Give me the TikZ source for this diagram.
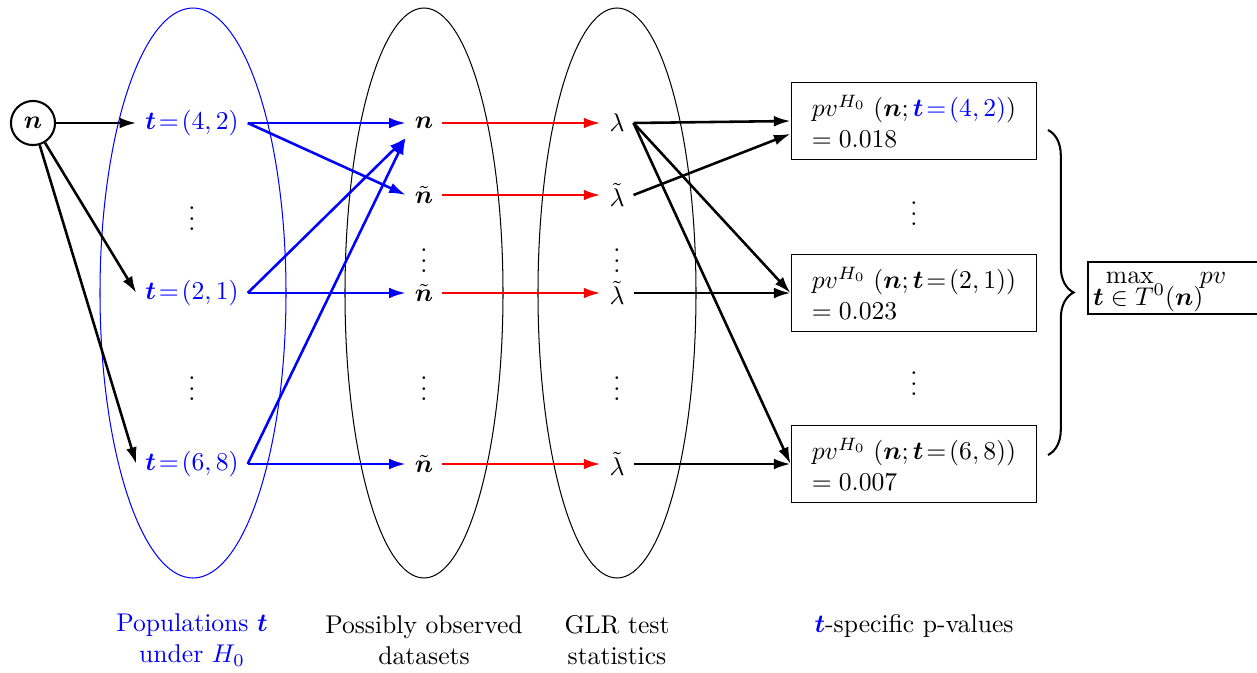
\documentclass[tikz,border=0pt]{standalone}
\usepackage{amsmath,amssymb}
\usetikzlibrary{arrows.meta,decorations.pathreplacing}

\begin{document}
\begin{tikzpicture}[x=0.39pt, y=-0.39pt,
  pop/.style={text=blue},
  pvbox/.style={draw, align=left, minimum width=95.9pt, minimum height=30pt},
  imp/.style={-{Latex[length=6.5pt, width=4.2pt]}, line width=1pt},
  impb/.style={imp, blue},
  impr/.style={imp, red},
  brc/.style={decorate, decoration={brace, amplitude=10pt}, thick},
]
\useasboundingbox (0,0) rectangle (1257,673);

% the three groups
\draw[blue] (193,293) ellipse [x radius=93, y radius=285];
\draw (424,293) ellipse [x radius=79, y radius=285];
\draw (617,293) ellipse [x radius=79, y radius=285];

% observed data
\node[draw, circle, thick, minimum size=17.2pt, inner sep=0pt] (nobs) at (33,123) {$\boldsymbol n$};

% populations under H0
\node[pop] (t42) at (192,123) {$\boldsymbol t\!=\!(4,2)$};
\node (tdots1) at (192,211) {$\vdots$};
\node[pop] (t21) at (192,293) {$\boldsymbol t\!=\!(2,1)$};
\node (tdots2) at (192,381) {$\vdots$};
\node[pop] (t68) at (192,464) {$\boldsymbol t\!=\!(6,8)$};

% possibly observed datasets
\node (d1) at (424,123) {$\boldsymbol n$};
\node (d2) at (424,195) {$\tilde{\boldsymbol n}$};
\node (ddots1) at (424,253) {$\vdots$};
\node (d3) at (424,293) {$\tilde{\boldsymbol n}$};
\node (ddots2) at (424,381) {$\vdots$};
\node (d4) at (424,464) {$\tilde{\boldsymbol n}$};

% GLR test statistics
\node (s1) at (617,123) {$\lambda$};
\node (s2) at (617,195) {$\tilde\lambda$};
\node (sdots1) at (617,253) {$\vdots$};
\node (s3) at (617,293) {$\tilde\lambda$};
\node (sdots2) at (617,381) {$\vdots$};
\node (s4) at (617,464) {$\tilde\lambda$};

% t-specific p-values
\node[pvbox] (pv42) at (914,121)
  {$pv^{H_0}\;(\boldsymbol n;\textcolor{blue}{\boldsymbol t\!=\!(4,2)})$\\$=0.018$};
\node (pvdots1) at (914,206) {$\vdots$};
\node[pvbox] (pv21) at (914,293)
  {$pv^{H_0}\;(\boldsymbol n;\boldsymbol t\!=\!(2,1))$\\$=0.023$};
\node (pvdots2) at (914,376) {$\vdots$};
\node[pvbox] (pv68) at (914,464)
  {$pv^{H_0}\;(\boldsymbol n;\boldsymbol t\!=\!(6,8))$\\$=0.007$};

% maximum over T0(n)
\draw[brc] (1048,130) -- (1048,455);
\node[draw, thick, anchor=west, inner xsep=2pt, inner ysep=0pt] (pvmax) at (1087,288)
  {\begin{tabular}{@{}l@{}}\hspace*{5pt}$\max$\hspace*{18pt}$pv$\\[-3.4pt]
   $\boldsymbol t\in T^0(\boldsymbol n)$\end{tabular}\hspace*{40pt}};

% arrows
\draw[imp] (nobs) -- (t42.west);
\draw[imp] (nobs) -- (t21.west);
\draw[imp] (nobs) -- (t68.west);

\draw[impb] (t42.east) -- (d1.west);
\draw[impb] (t42.east) -- (d2.west);
\draw[impb] (t21.east) -- (d1.south west);
\draw[impb] (t21.east) -- (d3.west);
\draw[impb] (t68.east) -- (d1.south west);
\draw[impb] (t68.east) -- (d4.west);

\draw[impr] (d1.east) -- (s1.west);
\draw[impr] (d2.east) -- (s2.west);
\draw[impr] (d3.east) -- (s3.west);
\draw[impr] (d4.east) -- (s4.west);

\draw[imp] (s1.east) -- (pv42.west);
\draw[imp] (s1.east) -- (pv21.west);
\draw[imp] (s1.east) -- (pv68.west);
\draw[imp] (s2.east) -- ([yshift=-5pt]pv42.west);
\draw[imp] (s3.east) -- (pv21.west);
\draw[imp] (s4.east) -- (pv68.west);

% column captions
\node[pop, align=center] (cap1) at (192,640) {Populations $\boldsymbol t$\\under $H_0$};
\node[align=center] (cap2) at (424,640) {Possibly observed\\datasets};
\node[align=center] (cap3) at (617,640) {GLR test\\statistics};
\node (cap4) at (914,626) {\textcolor{blue}{$\boldsymbol t$}-specific p-values};

\end{tikzpicture}
\end{document}
